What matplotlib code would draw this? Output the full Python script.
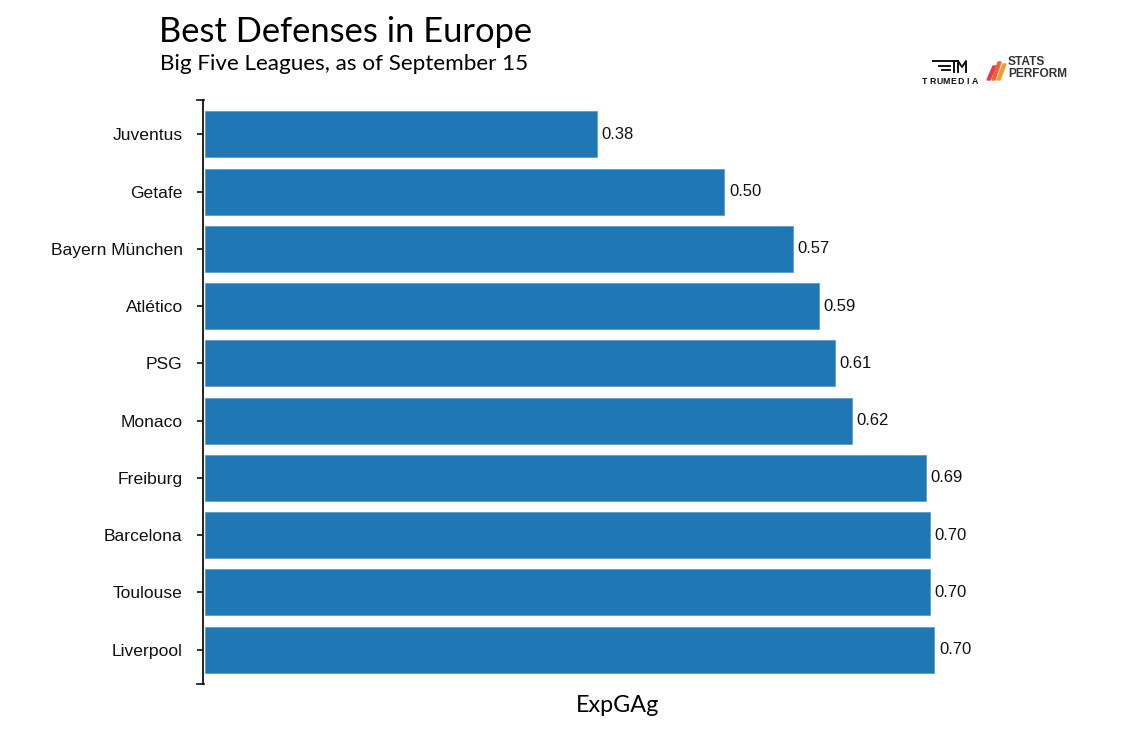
import matplotlib.pyplot as plt
from matplotlib.lines import Line2D
from matplotlib.patches import Polygon

teams = ["Juventus", "Getafe", "Bayern München", "Atlético", "PSG",
         "Monaco", "Freiburg", "Barcelona", "Toulouse", "Liverpool"]
exp_ga = [0.377, 0.500, 0.566, 0.591, 0.606, 0.623, 0.694, 0.698, 0.698, 0.702]

title = "Best Defenses in Europe"
subtitle = "Big Five Leagues, as of September 15"
xlabel = "ExpGAg"

W, H = 1124, 749
fig = plt.figure(figsize=(W / 100, H / 100), dpi=100)
ax = fig.add_axes([203 / W, 1 - 684 / H, (1031 - 203) / W, (684 - 100) / H])

y = list(range(len(teams)))
ax.barh(y, exp_ga, height=0.8, color="#1f77b4", edgecolor="#5d9ccc", linewidth=0.6)

for yi, v in zip(y, exp_ga):
    ax.annotate(f"{v:.2f}", (v, yi), xytext=(3.3, 0), textcoords="offset points",
                va="center", ha="left", fontsize=12, family="Liberation Sans", color="#111")

ax.set_xlim(-0.0018, 0.795)
ax.set_ylim(len(teams) - 0.4, -0.6)
ax.set_yticks(y)
ax.set_yticklabels(teams, fontsize=12.6, family="Liberation Sans", color="#111")
ax.tick_params(axis="y", length=4.3, width=1.3, color="#222", pad=10.3)
ax.set_xticks([])
for s in ["top", "right", "bottom"]:
    ax.spines[s].set_visible(False)
ax.spines["left"].set_linewidth(1.4)
ax.spines["left"].set_color("#222")

# outer end ticks of the domain line
for yy in [100, 684]:
    fig.add_artist(Line2D([197 / W, 203.5 / W], [1 - yy / H] * 2, color="#222", lw=1.3))

fig.text(618 / W, 1 - 705 / H, xlabel, ha="center", va="center", fontsize=16.8, family="Lato")
fig.text(159 / W, 1 - 32 / H, title, ha="left", va="center", fontsize=24.8, family="Lato")
fig.text(160 / W, 1 - 64 / H, subtitle, ha="left", va="center", fontsize=16.2, family="Lato")

# logos
for i, ch in enumerate("TRUMEDIA"):
    fig.text((925 + i * 7.1) / W, 1 - 81 / H, ch, ha="center", va="center", fontsize=6.3,
             family="Liberation Sans", weight="bold", color="#111")
for x0, x1, yy in [(933, 950, 61), (939, 950, 65.5), (942, 950, 70)]:
    fig.add_artist(Line2D([x0 / W, x1 / W], [1 - yy / H] * 2, color="#111", lw=1.4))
# T and M shapes of the mark
for xs, ys in [([950, 958], [61, 61]), ([954, 954], [61, 72]),
               ([958, 958, 962, 966, 966], [72, 61, 67, 61, 72])]:
    fig.add_artist(Line2D([a / W for a in xs], [1 - b / H for b in ys], color="#111", lw=1.4))
fig.text(1008 / W, 1 - 68 / H, "STATS\nPERFORM", ha="left", va="center", fontsize=8.6,
         family="Liberation Sans", weight="bold", linespacing=0.9, color="#333")
for dx, dy, c in [(0, 4, "#e8384f"), (5, 0, "#f2622e"), (10, 2, "#f29a2e")]:
    xs = [993 + dx, 996 + dx, 990 + dx, 987 + dx]
    ys = [62 + dy, 62 + dy, 80, 80]
    fig.add_artist(Polygon([(a / W, 1 - b / H) for a, b in zip(xs, ys)],
                           closed=True, color=c, transform=fig.transFigure))

fig.savefig("out.png", dpi=100)
